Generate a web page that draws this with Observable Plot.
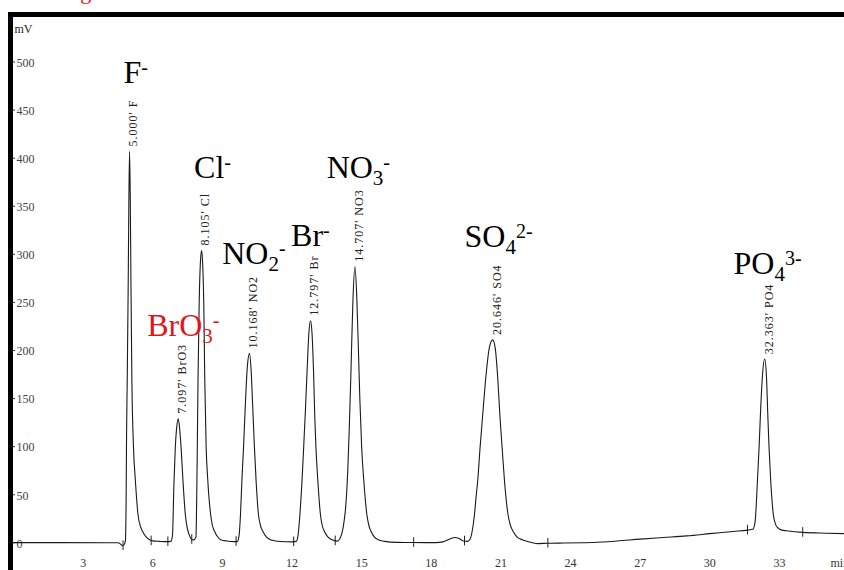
<!DOCTYPE html>
<html>
<head>
<meta charset="utf-8">
<script src="https://cdn.jsdelivr.net/npm/d3@7"></script>
<script src="https://cdn.jsdelivr.net/npm/@observablehq/plot@0.6"></script>
<style>
  html, body { margin: 0; padding: 0; background: #fff; overflow: hidden; width: 844px; height: 570px; }
  #cap { position: absolute; left: 62px; top: -19px; font: 22px/22px "Liberation Serif", "Times New Roman", serif; color: #e3141b; white-space: nowrap; }
  #frame { position: absolute; left: 8px; top: 12px; width: 831px; height: 553px; border-top: 5px solid #000; border-left: 5px solid #000; }
  #frame svg { display: block; }
  #frame svg text { font-family: "Liberation Serif", "Times New Roman", serif; }
</style>
</head>
<body>
<div id="cap">Fig</div>
<div id="frame"></div>
<script>
// ---------------- data ----------------
// chromatogram trace: [time (min), signal (mV)]
const trace = [
  [0.0, 0.2], [2.0, 0.2], [4.0, 0.1], [4.50, 0.0], [4.62, -1.5], [4.70, -3.0], [4.78, -1.5],
  [4.82, 2], [4.85, 40], [4.87, 110], [4.90, 170], [4.94, 265], [4.97, 355], [5.00, 407],
  [5.03, 360], [5.06, 270], [5.10, 169], [5.17, 99], [5.25, 65], [5.36, 30], [5.47, 17], [5.58, 11],
  [5.72, 6], [5.85, 3.5], [6.0, 2], [6.3, 1.5], [6.6, 1.2],
  [6.78, 1.5], [6.85, 8], [6.91, 60], [6.97, 99], [7.03, 120], [7.097, 129], [7.16, 118], [7.22, 99],
  [7.30, 65], [7.40, 30], [7.48, 16], [7.56, 9], [7.66, 4], [7.76, 3],
  [7.86, 6], [7.90, 60], [7.95, 170], [8.00, 250], [8.06, 295], [8.105, 304], [8.15, 290], [8.20, 245],
  [8.24, 169], [8.30, 99], [8.37, 65], [8.49, 30], [8.57, 18], [8.66, 12], [8.80, 6], [8.95, 3], [9.2, 1.8], [9.5, 1.2],
  [9.65, 1.5], [9.72, 8], [9.78, 30], [9.84, 65], [9.91, 99], [10.00, 150], [10.08, 185], [10.168, 197],
  [10.24, 178], [10.30, 145], [10.38, 99], [10.45, 65], [10.55, 30], [10.64, 18], [10.74, 12], [10.9, 6],
  [11.1, 3], [11.5, 1.3], [12.0, 1],
  [12.18, 1.5], [12.26, 8], [12.34, 30], [12.43, 65], [12.50, 99], [12.58, 140], [12.65, 180], [12.73, 220],
  [12.797, 231], [12.86, 218], [12.93, 175], [12.98, 130], [13.03, 99], [13.11, 65], [13.22, 30], [13.30, 18],
  [13.39, 12], [13.55, 6], [13.75, 3], [13.95, 1.8],
  [14.05, 4], [14.15, 10], [14.24, 22], [14.32, 40], [14.40, 75], [14.46, 115], [14.54, 180], [14.62, 250],
  [14.707, 287], [14.79, 255], [14.86, 200], [14.92, 150], [15.00, 99], [15.09, 65], [15.22, 30], [15.31, 18],
  [15.40, 12], [15.55, 6], [15.69, 3.5], [16.0, 1.5], [16.5, 0.5], [17.2, 0.3],
  [18.2, 0.2], [18.5, 1.0], [18.8, 4.0], [19.0, 5.5], [19.2, 4.5], [19.4, 1.8], [19.55, 1.5],
  [19.65, 3], [19.76, 12], [19.86, 30], [19.93, 48], [20.0, 65], [20.10, 99], [20.23, 138], [20.36, 175],
  [20.50, 203], [20.646, 211], [20.75, 203], [20.86, 172], [20.96, 130], [21.05, 99], [21.15, 65], [21.30, 30],
  [21.41, 18], [21.52, 12], [21.70, 6], [21.94, 3], [22.3, 0.5], [22.6, -0.8], [23.0, -0.5], [23.5, -0.3],
  [24.5, 0], [25.0, 0.3],
  [26.0, 1.8], [27.0, 3.8], [28.0, 5.5], [29.0, 7.2], [30.0, 9.5], [31.0, 11.8], [31.62, 13.2], [31.85, 14],
  [31.95, 22], [32.00, 40], [32.05, 65], [32.12, 99], [32.19, 140], [32.26, 172], [32.363, 191], [32.44, 172],
  [32.50, 130], [32.55, 99], [32.62, 65], [32.73, 30], [32.82, 20], [32.91, 16], [33.1, 13.2], [33.3, 12.5],
  [34.0, 10.8], [35.0, 10], [35.8, 9.6]
];

// peak identification
const peakNames = ["F", "BrO3", "Cl", "NO2", "Br", "NO3", "SO4", "PO4"];
const retentionTimes = [5.000, 7.097, 8.105, 10.168, 12.797, 14.707, 20.646, 32.363];
const peakHeights = [407, 129, 304, 197, 231, 287, 211, 191];

// ion annotation labels (base, subscript, superscript) and their anchor in chart units (min, mV)
const ionBase = ["F", "BrO", "Cl", "NO", "Br", "NO", "SO", "PO"];
const ionSub  = ["", "3", "", "2", "", "3", "4", "4"];
const ionSup  = ["-", "-", "-", "-", "-", "-", "2-", "3-"];
const ionLabelTime = [4.74, 5.76, 7.78, 8.99, 11.96, 13.49, 19.43, 31.02];
const ionLabelMV   = [478, 215, 379, 290, 309, 379, 308, 280];

// integration markers on the baseline: time (min), level (mV)
const markTimes  = [4.72, 5.93, 6.65, 7.68, 9.59, 12.07, 13.86, 17.24, 19.43, 23.02, 31.62, 34.0];
const markLevels = [-3, 2, 1.2, 3.5, 1.3, 1, 2, 0.3, 1.8, -0.5, 13.2, 10.8];

// axis ticks
const yTicks = [0, 50, 100, 150, 200, 250, 300, 350, 400, 450, 500];
const xTicks = [3, 6, 9, 12, 15, 18, 21, 24, 27, 30, 33];

// ---------------- build tables ----------------
const traceData = trace.map(([t, v]) => ({t, v}));
const peaks = peakNames.map((name, i) => ({name, rt: retentionTimes[i], h: peakHeights[i]}));
const ions = ionBase.map((base, i) => ({
  name: peakNames[i], base, sub: ionSub[i], sup: ionSup[i], t: ionLabelTime[i], v: ionLabelMV[i]
}));
const marks = markTimes.map((t, i) => ({t, v: markLevels[i]}));

const serif = "Liberation Serif";
const red = "#e3141b";

const chart = Plot.plot({
  width: 831,
  height: 553,
  marginLeft: 0,
  marginRight: 0,
  marginTop: 0,
  marginBottom: 0,
  x: {domain: [0, 35.8], axis: null},
  y: {domain: [-28.8, 546.3], axis: null},
  style: {fontFamily: serif, background: "transparent", overflow: "visible"},
  marks: [
    // y ticks and labels (inside the plot, next to the axis bar)
    Plot.ruleY(yTicks, {x1: 0, x2: 0.09, y: d => d, stroke: "#333", strokeWidth: 1}),
    Plot.text(yTicks, {x: 0, y: d => d, text: d => String(d), textAnchor: "start", dx: 3, dy: 1,
      fontSize: 12, fontFamily: serif, fill: "#444"}),
    Plot.text(["mV"], {frameAnchor: "top-left", text: d => d, textAnchor: "start", lineAnchor: "top",
      dx: 1, dy: 7, fontSize: 12, fontFamily: serif, fill: "#222"}),
    // x tick labels
    Plot.text(xTicks, {x: d => d, frameAnchor: "bottom", text: d => String(d), lineAnchor: "bottom",
      dy: -4, fontSize: 12, fontFamily: serif, fill: "#333"}),
    Plot.text(["min"], {frameAnchor: "bottom-right", text: d => d, textAnchor: "start", lineAnchor: "bottom",
      dx: -14, dy: -4, fontSize: 12, fontFamily: serif, fill: "#333"}),
    // integration markers
    Plot.ruleX(marks, {x: "t", y1: d => d.v - 5, y2: d => d.v + 5, stroke: "#222", strokeWidth: 1}),
    // trace
    Plot.line(traceData, {x: "t", y: "v", curve: "monotone-x", stroke: "#1a1a1a", strokeWidth: 1.1}),
    // retention-time labels
    Plot.text(peaks, {x: "rt", y: "h", text: d => `${d.rt.toFixed(3)}' ${d.name}`, rotate: -90,
      textAnchor: "start", lineAnchor: "middle", dx: 4, dy: -5, fontSize: 12, fontFamily: serif, fill: "#222",
      ariaLabel: "peak-ids"}),
    // ion labels
    Plot.text(ions, {x: "t", y: "v", text: "base", textAnchor: "start", lineAnchor: "bottom",
      fontSize: 32, fontFamily: serif, fill: d => d.name === "BrO3" ? red : "#000", ariaLabel: "ion-labels"})
  ]
});

document.getElementById("frame").appendChild(chart);

// letter spacing for the rotated retention-time labels
const root = d3.select(chart);
let peakG = root.select('g[aria-label="peak-ids"]');
if (peakG.empty()) peakG = root.selectAll('g[font-size="12"]').filter(function() {
  return this.querySelector('text[transform*="rotate"]');
});
peakG.selectAll("text").attr("letter-spacing", "1px");

// sub/superscripts for ion labels
let ionG = root.select('g[aria-label="ion-labels"]');
if (ionG.empty()) ionG = root.select('g[font-size="32"]');
ionG.selectAll("text").each(function(i) {
  const d = ions[i];
  if (!d) return;
  const el = d3.select(this);
  if (d.sub) el.append("tspan").attr("font-size", 21).attr("dy", 7).text(d.sub);
  if (d.sup) el.append("tspan").attr("font-size", 20).attr("dy", d.sub ? -16 : -9).text(d.sup);
});
</script>
</body>
</html>
